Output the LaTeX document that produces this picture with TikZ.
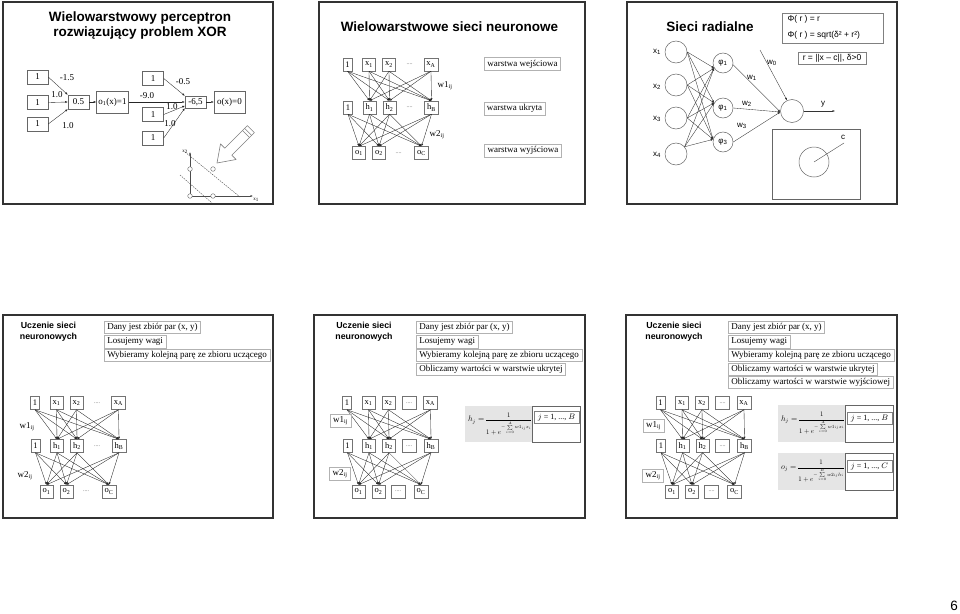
\documentclass[tikz,border=0pt]{standalone}
\usepackage{amsmath}
\usepackage{fontspec}
\setmainfont{Liberation Serif}
\newfontfamily\arial{Liberation Sans}
\usetikzlibrary{arrows.meta}
\newcommand\netw[4]{%
\begin{scope}[shift={(#2,#3)}]
\node[nb] (#1t0) at (0,0) {1};
\node[nb] (#1t1) at (21.5,0) {x\textsubscript{1}};
\node[nb] (#1t2) at (41.5,0) {x\textsubscript{2}};
\node[#4] (#1td) at (62,0) {....};
\node[nb] (#1t3) at (83.5,0) {x\textsubscript{A}};
\node[nb] (#1m0) at (0.5,43) {1};
\node[nb] (#1m1) at (22,43) {h\textsubscript{1}};
\node[nb] (#1m2) at (42,43) {h\textsubscript{2}};
\node[#4] (#1md) at (62,43) {....};
\node[nb] (#1m3) at (84,43) {h\textsubscript{B}};
\node[nb] (#1b1) at (11.5,88.5) {o\textsubscript{1}};
\node[nb] (#1b2) at (31.5,88.5) {o\textsubscript{2}};
\node[#4] (#1bd) at (51,88.5) {....};
\node[nb] (#1b3) at (74,88.5) {o\textsubscript{C}};
\end{scope}
\foreach \ii in {0,1,2,3}{\foreach \jj in {1,2,3}{\draw[ed] (#1t\ii.south) -- (#1m\jj.north);}}
\foreach \ii in {0,1,2,3}{\foreach \jj in {1,2,3}{\draw[ed] (#1m\ii.south) -- (#1b\jj.north);}}
}
\newcommand\hfml{{\fontsize{12}{14}\selectfont$h_j=$}\,{\fontsize{10}{12}\selectfont$\dfrac{1}{1+e^{-\sum\limits_{i=0}^{A} w1_{ij}x_i}}$}}
\newcommand\ofml{{\fontsize{12}{14}\selectfont$o_j=$}\,{\fontsize{10}{12}\selectfont$\dfrac{1}{1+e^{-\sum\limits_{i=0}^{B} w2_{ij}h_i}}$}}
\begin{document}
\begin{tikzpicture}[x=1pt,y=-1pt,
 frame/.style={draw=black!80,line width=1.6pt},
 ttl/.style={font=\arial\bfseries\fontsize{13.5}{15}\selectfont,align=center},
 ttls/.style={font=\arial\bfseries\fontsize{8.8}{11}\selectfont,align=center},
 nb/.style={draw=black!55,line width=0.5pt,font=\fontsize{8.5}{9}\selectfont,minimum height=13pt,inner xsep=2.5pt,inner ysep=0pt},
 db/.style={nb,text=black!60,font=\fontsize{6}{7}\selectfont,minimum width=14pt},
 dn/.style={font=\fontsize{6}{7}\selectfont,text=black!60},
 ed/.style={draw=black!85,line width=0.35pt,-{Latex[length=2.5pt,width=2pt]}},
 rowbox/.style={draw=black!30,line width=0.5pt,anchor=west,font=\fontsize{9}{10}\selectfont,minimum height=12.5pt,inner xsep=3pt,inner ysep=0pt},
 lbl/.style={font=\fontsize{9}{10}\selectfont},
 lb/.style={draw=black!30,line width=0.5pt,font=\fontsize{9}{10}\selectfont,minimum height=13pt,inner xsep=3pt,inner ysep=0pt},
 sbox/.style={draw=black!60,line width=0.5pt,font=\fontsize{9}{10}\selectfont,minimum width=21pt,minimum height=14pt,inner xsep=2pt,inner ysep=0pt},
 al/.style={font=\arial\fontsize{8}{9}\selectfont},
 cir/.style={circle,draw=black!60,line width=0.5pt,minimum size=22pt,inner sep=0pt,font=\arial\fontsize{8}{9}\selectfont},
 sed/.style={draw=black!80,line width=0.35pt,-{Latex[length=2.5pt,width=2pt]}},
 fml/.style={inner sep=0pt,anchor=west,scale=0.68,transform shape},
 jbox/.style={draw=black!50,line width=0.4pt,font=\fontsize{8}{9}\selectfont,minimum height=12pt,minimum width=45pt,inner xsep=1.5pt,inner ysep=0pt}]
\useasboundingbox (0,0) rectangle (960,613);
\fill[white] (0,0) rectangle (960,613);
% frames
\draw[frame] (3,2) rectangle (273,204);
\draw[frame] (319,2) rectangle (585,204);
\draw[frame] (627,2) rectangle (897,204);
\draw[frame] (3,315) rectangle (273,518);
\draw[frame] (314,315) rectangle (585,518);
\draw[frame] (626,315) rectangle (897,518);
% ---------------- slide 1
\node[ttl] (t1) at (140,25.5) {Wielowarstwowy perceptron\\rozwiązujący problem XOR};
\node[sbox] (a1) at (37.5,77) {1};
\node[sbox] (a2) at (37.5,102.5) {1};
\node[sbox] (a3) at (37.5,124) {1};
\node[sbox] (n1) at (78.5,102) {0.5};
\node[sbox,minimum width=31pt,minimum height=22pt] (o1) at (112.5,102) {o\textsubscript{1}(x)=1};
\node[sbox] (b1) at (153,78.5) {1};
\node[sbox] (b2) at (153,114.5) {1};
\node[sbox] (b3) at (153,138) {1};
\node[sbox,minimum height=12pt] (n2) at (195.5,102) {-6,5};
\node[sbox,minimum width=31pt,minimum height=22pt] (o2) at (229.5,102) {o(x)=0};
\draw[ed] (a1.east) -- (n1.north west);
\draw[ed] (a2.east) -- (n1.west);
\draw[ed] (a3.east) -- (n1.south west);
\draw[ed] (n1) -- (o1);
\draw[ed] (o1.east) -- (n2.west);
\draw[ed] (b1.east) -- (n2.north west);
\draw[ed] (b2.east) -- (n2.200);
\draw[ed] (b3.east) -- (n2.south west);
\draw[ed] (n2) -- (o2);
\node[lbl] (l1) at (67,78) {-1.5};
\node[lbl] (l2) at (57,95) {1.0};
\node[lbl] (l3) at (68,126) {1.0};
\node[lbl] (l4) at (147,96) {-9.0};
\node[lbl] (l5) at (183,82) {-0.5};
\node[lbl] (l6) at (172,107) {1.0};
\node[lbl] (l7) at (170,124) {1.0};
% hollow arrow
\draw[black!50,line width=0.6pt,fill=white,line join=round] (217,163) -- (236.1,159.5) -- (231.8,155.2) -- (254.4,132.6) -- (247.4,125.6) -- (224.8,148.2) -- (220.5,143.9) -- cycle;
\draw[black!50,line width=0.5pt] (251.6,135.4) -- (244.6,128.4) (249.5,137.5) -- (242.5,130.5);
% xor plot
\coordinate (org) at (190,196);
\coordinate (yax) at (190,152);
\coordinate (xax) at (253,196);
\draw[black!70,line width=0.4pt,-{Latex[length=2.5pt,width=2pt]}] (org) -- (yax);
\draw[black!70,line width=0.4pt,-{Latex[length=2.5pt,width=2pt]}] (org) -- (xax);
\node[font=\fontsize{5}{5}\selectfont] (lx2) at (185,152) {x\textsubscript{2}};
\node[font=\fontsize{5}{5}\selectfont] (lx1) at (256,200) {x\textsubscript{1}};
\coordinate (d1a) at (185,152);
\coordinate (d1b) at (240,197);
\coordinate (d2a) at (180,175);
\coordinate (d2b) at (212,203);
\draw[black!70,line width=0.4pt,dash pattern=on 1.5pt off 1pt] (d1a) -- (d1b);
\draw[black!70,line width=0.4pt,dash pattern=on 1.5pt off 1pt] (d2a) -- (d2b);
\foreach \p in {(190,196),(213,196),(190,169),(213,169)} \draw[black!60,fill=white,line width=0.4pt] \p circle (2.3);
% ---------------- slide 2
\node[ttl] (t2) at (449.5,27) {Wielowarstwowe sieci neuronowe};
\netw{c}{347.5}{64.5}{dn}
\node[lbl] (cw1) at (445,86) {w1\textsubscript{ij}};
\node[lbl] (cw2) at (437,135) {w2\textsubscript{ij}};
\node[lb] (cl1) at (522.5,64) {warstwa wejściowa};
\node[lb] (cl2) at (514.5,108.5) {warstwa ukryta};
\node[lb] (cl3) at (523,150.5) {warstwa wyjściowa};
% ---------------- slide 3
\node[ttl] (t3) at (710,27) {Sieci radialne};
\draw[draw=black!50,line width=0.5pt] (782,13) rectangle (883,43);
\node[al,anchor=west,font=\arial\fontsize{8.5}{9}\selectfont] (f1) at (784,19.5) {Φ( r ) = r};
\node[al,anchor=west,font=\arial\fontsize{8.5}{9}\selectfont] (f2) at (784,35) {Φ( r ) = sqrt(δ² + r²)};
\node[draw=black!50,line width=0.5pt,font=\arial\fontsize{8.5}{9}\selectfont,minimum height=12pt,inner xsep=5pt,inner ysep=0pt] (f3) at (832,58) {r = ||x – c||, δ>0};
\node[cir] (x1) at (676,52) {};
\node[cir] (x2) at (676,85) {};
\node[cir] (x3) at (676,118) {};
\node[cir] (x4) at (676,154) {};
\node[al] (lx1r) at (657,52) {x\textsubscript{1}};
\node[al] (lx2r) at (657,87) {x\textsubscript{2}};
\node[al] (lx3r) at (657,119) {x\textsubscript{3}};
\node[al] (lx4r) at (657,155) {x\textsubscript{4}};
\node[cir,minimum size=20pt] (p1) at (723,63) {φ\textsubscript{1}};
\node[cir,minimum size=20pt] (p2) at (723,108) {φ\textsubscript{1}};
\node[cir,minimum size=20pt] (p3) at (723,142) {φ\textsubscript{3}};
\node[cir,minimum size=23pt] (out) at (792,111) {};
\foreach \s/\a in {x1/east,x2/east,x3/east,x4/40}{
  \draw[sed] (\s.\a) -- (p1.210);
  \draw[sed] (\s.\a) -- (p2.150);
  \draw[sed] (\s.\a) -- (p3.165);}
\draw[sed] (p1.-10) -- (out.185);
\draw[sed] (p2.east) -- (out.185);
\draw[sed] (p3.east) -- (out.185);
\coordinate (w0s) at (760,50);
\coordinate (ye) at (835,111);
\draw[sed] (w0s) -- (out.115);
\draw[sed] (out.east) -- (ye);
\node[al] (lw0) at (772,63) {w\textsubscript{0}};
\node[al] (lw1) at (752,78) {w\textsubscript{1}};
\node[al] (lw2) at (747,104) {w\textsubscript{2}};
\node[al] (lw3) at (742,126) {w\textsubscript{3}};
\node[al] (ly) at (823,104) {y};
\draw[black!60,line width=0.5pt] (772,129) rectangle (860,199);
\node[circle,draw=black!60,line width=0.5pt,minimum size=30pt,inner sep=0pt] (cc) at (814,162) {};
\coordinate (ce) at (844,143);
\draw[black!70,line width=0.4pt] (cc.center) -- (ce);
\node[al] (lc) at (843,137) {c};
% ---------------- slide 4
\node[ttls] (t4) at (48.5,331.5) {Uczenie sieci\\neuronowych};
\node[rowbox] (r41) at (104,327) {Dany jest zbiór par (x, y)};
\node[rowbox] (r42) at (104,341.5) {Losujemy wagi};
\node[rowbox] (r43) at (104,355) {Wybieramy kolejną parę ze zbioru uczącego};
\netw{d}{35}{403}{dn}
\node[lbl] (dw1) at (27,427) {w1\textsubscript{ij}};
\node[lbl] (dw2) at (25,476) {w2\textsubscript{ij}};
% ---------------- slide 5
\node[ttls] (t5) at (364,331.5) {Uczenie sieci\\neuronowych};
\node[rowbox] (r51) at (416,327) {Dany jest zbiór par (x, y)};
\node[rowbox] (r52) at (416,341.5) {Losujemy wagi};
\node[rowbox] (r53) at (416,355) {Wybieramy kolejną parę ze zbioru uczącego};
\node[rowbox] (r54) at (416,369) {Obliczamy wartości w warstwie ukrytej};
\netw{e}{347}{403}{db}
\node[lb] (ew1) at (340.5,421) {w1\textsubscript{ij}};
\node[lb] (ew2) at (340,473.5) {w2\textsubscript{ij}};
\fill[black!10] (465,406) rectangle (532,442);
\draw[black!60,line width=0.5pt,fill=white] (532,406) rectangle (580,442);
\node[fml] (eh) at (468,424) {\hfml};
\node[jbox] (ej) at (556.5,417.5) {$j$ = 1, ..., $B$};
% ---------------- slide 6
\node[ttls] (t6) at (674,331.5) {Uczenie sieci\\neuronowych};
\node[rowbox] (r61) at (728,327) {Dany jest zbiór par (x, y)};
\node[rowbox] (r62) at (728,341.5) {Losujemy wagi};
\node[rowbox] (r63) at (728,355) {Wybieramy kolejną parę ze zbioru uczącego};
\node[rowbox] (r64) at (728,369) {Obliczamy wartości w warstwie ukrytej};
\node[rowbox] (r65) at (728,382) {Obliczamy wartości w warstwie wyjściowej};
\netw{f}{660.5}{403}{db}
\node[lb] (fw1) at (653.5,426) {w1\textsubscript{ij}};
\node[lb] (fw2) at (653,475.5) {w2\textsubscript{ij}};
\fill[black!10] (778,405) rectangle (845,442);
\draw[black!60,line width=0.5pt,fill=white] (845,405) rectangle (893,442);
\node[fml] (fh) at (781,423.5) {\hfml};
\node[jbox] (fj1) at (869.5,418.5) {$j$ = 1, ..., $B$};
\fill[black!10] (778,453) rectangle (845,490);
\draw[black!60,line width=0.5pt,fill=white] (845,453) rectangle (893,490);
\node[fml] (fo) at (781,471.5) {\ofml};
\node[jbox] (fj2) at (869.5,466.5) {$j$ = 1, ..., $C$};
% page number
\node[font=\arial\fontsize{13.5}{15}\selectfont] (pg) at (954,606) {6};
\end{tikzpicture}
\end{document}
